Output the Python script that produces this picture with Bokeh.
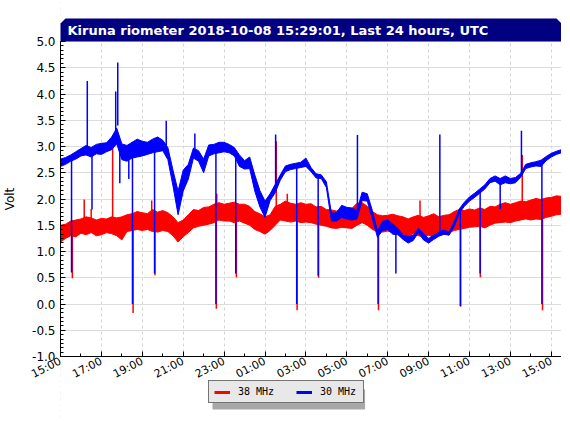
import numpy as np
from bokeh.plotting import figure
from bokeh.models import (Range1d, FixedTicker, NumeralTickFormatter, Label,
                          Legend, LegendItem, ColumnDataSource)
from bokeh.embed import file_html
from bokeh.resources import INLINE

# ---------------- data ----------------
title_text = "Kiruna riometer 2018-10-08 15:29:01, Last 24 hours, UTC"
y_label = "Volt"
series_names = ["38 MHz", "30 MHz"]
series_colors = ["#ff0000", "#0000ff"]

# x axis: hours since 2018-10-07 15:00 UTC
x_tick_hours = [0, 2, 4, 6, 8, 10, 12, 14, 16, 18, 20, 22, 24]
x_tick_labels = ["15:00", "17:00", "19:00", "21:00", "23:00", "01:00", "03:00",
                 "05:00", "07:00", "09:00", "11:00", "13:00", "15:00"]
x_minor_hours = [1, 3, 5, 7, 9, 11, 13, 15, 17, 19, 21, 23]
y_ticks = [-1.0, -0.5, 0.0, 0.5, 1.0, 1.5, 2.0, 2.5, 3.0, 3.5, 4.0, 4.5, 5.0]

# sample times (every 15 min) with min / max of the signal in each interval
t_hours = np.arange(0, 24.51, 0.25)

red_lo = [1.18, 1.25, 1.30, 1.28, 1.35, 1.32, 1.36, 1.30, 1.32, 1.36, 1.34, 1.30,
          1.22, 1.38, 1.40, 1.42, 1.40, 1.42, 1.38, 1.37, 1.40, 1.38, 1.30, 1.18,
          1.28, 1.36, 1.45, 1.48, 1.50, 1.52, 1.55, 1.60, 1.58, 1.58, 1.55, 1.58,
          1.54, 1.50, 1.42, 1.38, 1.33, 1.40, 1.50, 1.60, 1.58, 1.56, 1.58, 1.55,
          1.56, 1.55, 1.52, 1.50, 1.48, 1.45, 1.44, 1.46, 1.45, 1.44, 1.50, 1.55,
          1.50, 1.42, 1.38, 1.37, 1.39, 1.36, 1.37, 1.34, 1.30, 1.34, 1.30, 1.28,
          1.31, 1.28, 1.30, 1.33, 1.36, 1.40, 1.42, 1.44, 1.46, 1.47, 1.48, 1.45,
          1.50, 1.54, 1.55, 1.56, 1.55, 1.58, 1.60, 1.62, 1.60, 1.62, 1.61, 1.65,
          1.67, 1.70, 1.71]
red_hi = [1.50, 1.52, 1.58, 1.60, 1.62, 1.66, 1.64, 1.60, 1.63, 1.62, 1.66, 1.64,
          1.66, 1.70, 1.72, 1.76, 1.74, 1.72, 1.80, 1.75, 1.78, 1.74, 1.66, 1.55,
          1.60, 1.70, 1.80, 1.78, 1.84, 1.85, 1.90, 1.93, 1.90, 1.92, 1.94, 1.90,
          1.90, 1.86, 1.76, 1.72, 1.66, 1.70, 1.86, 1.90, 1.96, 1.92, 1.90, 1.93,
          1.90, 1.91, 1.85, 1.86, 1.80, 1.79, 1.77, 1.81, 1.78, 1.82, 1.92, 1.93,
          1.86, 1.76, 1.70, 1.68, 1.69, 1.71, 1.68, 1.66, 1.62, 1.66, 1.69, 1.65,
          1.68, 1.72, 1.66, 1.69, 1.70, 1.76, 1.80, 1.78, 1.81, 1.79, 1.83, 1.80,
          1.86, 1.85, 1.90, 1.93, 1.90, 1.93, 1.96, 1.95, 1.98, 2.01, 1.99, 2.02,
          2.03, 2.06, 2.05]

blue_lo = [2.62, 2.66, 2.72, 2.76, 2.82, 2.84, 2.80, 2.86, 2.85, 2.90, 2.94, 3.05,
           2.75, 2.72, 2.78, 2.80, 2.82, 2.85, 2.88, 2.90, 2.92, 2.75, 2.25, 1.70,
           2.15, 2.38, 2.78, 2.72, 2.50, 2.82, 2.86, 2.88, 2.90, 2.88, 2.82, 2.62,
           2.57, 2.58, 2.15, 1.85, 1.65, 1.97, 2.12, 2.36, 2.52, 2.56, 2.58, 2.60,
           2.62, 2.52, 2.40, 2.39, 2.22, 1.58, 1.58, 1.65, 1.62, 1.60, 1.62, 1.97,
           1.96, 1.62, 1.27, 1.40, 1.42, 1.33, 1.32, 1.23, 1.16, 1.21, 1.36, 1.22,
           1.16, 1.23, 1.29, 1.33, 1.31, 1.47, 1.73, 1.86, 1.96, 2.03, 2.11, 2.19,
           2.31, 2.34, 2.27, 2.31, 2.29, 2.31, 2.41, 2.58, 2.61, 2.63, 2.62, 2.73,
           2.80, 2.85, 2.88]
blue_hi = [2.76, 2.79, 2.84, 2.90, 2.96, 3.02, 2.98, 3.04, 3.06, 3.07, 3.18, 3.35,
           3.05, 3.02, 3.08, 3.14, 3.10, 3.08, 3.14, 3.18, 3.12, 2.98, 2.55, 2.15,
           2.55, 2.66, 2.97, 2.92, 2.76, 3.03, 3.04, 3.08, 3.08, 3.04, 2.98, 2.84,
           2.73, 2.80, 2.46, 2.16, 1.96, 2.10, 2.28, 2.46, 2.63, 2.66, 2.68, 2.70,
           2.78, 2.60, 2.48, 2.46, 2.33, 1.73, 1.74, 1.88, 1.84, 1.83, 1.78, 2.13,
           2.10, 1.78, 1.39, 1.58, 1.60, 1.52, 1.44, 1.32, 1.29, 1.31, 1.44, 1.34,
           1.25, 1.31, 1.37, 1.41, 1.37, 1.57, 1.81, 1.94, 2.04, 2.11, 2.19, 2.27,
           2.39, 2.44, 2.39, 2.44, 2.39, 2.41, 2.49, 2.66, 2.69, 2.71, 2.74, 2.81,
           2.87, 2.91, 2.94]

# short single-sample excursions: time, band level, extreme value
red_spike_t = [0.58, 1.16, 1.50, 2.55, 3.55, 4.46, 4.62, 7.62, 7.64, 8.60, 10.55,
               11.09, 11.57, 12.62, 15.55, 17.58, 19.57, 20.53, 22.58, 23.57]
red_spike_from = [1.40, 1.60, 1.60, 1.60, 1.50, 1.70, 1.50, 1.70, 1.80, 1.70, 1.80,
                  1.90, 1.70, 1.60, 1.50, 1.60, 1.50, 1.60, 1.90, 1.70]
red_spike_to = [0.49, 1.99, 1.81, 2.98, -0.17, 1.97, 0.55, -0.09, 2.10, 0.51, 3.10,
                2.10, -0.12, 0.50, -0.12, 1.97, -0.05, 0.51, 2.84, -0.12]

blue_spike_t = [0.54, 1.31, 1.54, 2.70, 2.80, 2.90, 3.34, 3.52, 4.60, 5.17, 6.57,
                7.60, 8.57, 10.52, 11.55, 12.60, 14.52, 15.53, 16.40, 18.55, 19.55,
                20.52, 21.50, 22.54, 23.54]
blue_spike_from = [2.80, 2.95, 2.90, 3.20, 3.40, 2.90, 2.90, 2.90, 2.95, 3.00, 2.85,
                   2.90, 2.90, 2.20, 2.60, 2.45, 1.75, 1.35, 1.40, 1.30, 1.75, 2.15,
                   2.35, 2.45, 2.65]
blue_spike_to = [0.60, 4.25, 1.80, 4.05, 4.60, 2.30, 2.38, 0.00, 0.58, 3.49, 3.25,
                 0.00, 0.58, 3.23, 0.00, 0.54, 3.22, 0.00, 0.58, 3.23, -0.04, 0.58,
                 1.81, 3.30, 0.00]

# ---------------- geometry ----------------
W, H = 561, 418                  # canvas size in px
PX_PER_H = 20.45                 # horizontal scale
PX_PER_V = 52.5                  # vertical scale
PLOT_LEFT, PLOT_TOP = 60, 41     # where 15:00 / 5.0 V sit on the canvas
x_start = -PLOT_LEFT / PX_PER_H
x_end = x_start + W / PX_PER_H
y_top = 5.0 + PLOT_TOP / PX_PER_V
y_bottom = y_top - H / PX_PER_V
bar_h = 23 / PX_PER_V            # title bar height (volts)

p = figure(width=W, height=H, x_range=Range1d(x_start, x_end),
           y_range=Range1d(y_bottom, y_top),
           output_backend="svg", toolbar_location=None,
           min_border_left=0, min_border_right=0, min_border_top=0, min_border_bottom=0)
p.outline_line_color = None
p.background_fill_color = "white"
p.border_fill_color = "white"

# grids
p.ygrid.grid_line_color = "#dcdcdc"
p.ygrid.grid_line_width = 1
p.xgrid.grid_line_color = "#d4d4d4"
p.xgrid.grid_line_dash = "3 3"

# axes (placed at 15:00 and at -1.0 V)
xa = p.xaxis[0]
xa.fixed_location = -1.0
xa.bounds = (0, x_end)
xa.ticker = FixedTicker(ticks=x_tick_hours, minor_ticks=x_minor_hours)
xa.major_label_overrides = {h: lab for h, lab in zip(x_tick_hours, x_tick_labels)}
xa.major_label_orientation = 0.47
xa.major_label_text_font = "DejaVu Sans"
xa.major_label_text_font_size = "11px"
xa.major_label_text_color = "black"
xa.major_label_standoff = 4
xa.major_tick_in = 5
xa.major_tick_out = 0
xa.minor_tick_in = 3
xa.minor_tick_out = 0
xa.axis_line_color = "black"
xa.major_tick_line_color = "black"
xa.minor_tick_line_color = "black"

ya = p.yaxis[0]
ya.fixed_location = 0.0
ya.bounds = (-1, 5)
minor_y = list(np.round(np.arange(-1, 5.0001, 0.5 / 6), 4))
ya.ticker = FixedTicker(ticks=y_ticks, minor_ticks=minor_y)
ya.formatter = NumeralTickFormatter(format="0.0")
ya.major_label_text_font = "DejaVu Sans"
ya.major_label_text_font_size = "12px"
ya.major_label_text_color = "black"
ya.major_label_standoff = 5
ya.major_tick_in = 5
ya.major_tick_out = 0
ya.minor_tick_in = 3
ya.minor_tick_out = 0
ya.axis_line_color = "black"
ya.major_tick_line_color = "black"
ya.minor_tick_line_color = "black"

# series 38 MHz (red)
src_r = ColumnDataSource(dict(t=t_hours, lo=red_lo, hi=red_hi))
p.varea(x="t", y1="lo", y2="hi", source=src_r, fill_color=series_colors[0])
p.line(x="t", y="lo", source=src_r, line_color=series_colors[0], line_width=1)
p.line(x="t", y="hi", source=src_r, line_color=series_colors[0], line_width=1)
p.segment(x0=red_spike_t, y0=red_spike_from, x1=red_spike_t, y1=red_spike_to,
          line_color=series_colors[0], line_width=1.5)

# series 30 MHz (blue)
src_b = ColumnDataSource(dict(t=t_hours, lo=blue_lo, hi=blue_hi))
p.varea(x="t", y1="lo", y2="hi", source=src_b, fill_color=series_colors[1])
p.line(x="t", y="lo", source=src_b, line_color=series_colors[1], line_width=1)
p.line(x="t", y="hi", source=src_b, line_color=series_colors[1], line_width=1)
p.segment(x0=blue_spike_t, y0=blue_spike_from, x1=blue_spike_t, y1=blue_spike_to,
          line_color=series_colors[1], line_width=1.5)

# blank margins around the plotting area (hide grid lines there)
p.quad(left=[x_start, 0, 0], right=[0, x_end, x_end],
       bottom=[y_bottom, y_bottom, 5.0], top=[y_top, -1.0, y_top],
       fill_color="white", line_color=None)

# title bar with bevelled top corners
dx = 5 / PX_PER_H
dy = 5 / PX_PER_V
bar_top = 5.0 + bar_h
p.patch(x=[0, 0, dx, x_end - dx, x_end, x_end],
        y=[5.0, bar_top - dy, bar_top, bar_top, bar_top - dy, 5.0],
        fill_color="#000080", line_color="#000080", line_width=0)
p.add_layout(Label(x=PLOT_LEFT + 7, x_units="screen", y=5.0 + bar_h / 2, y_units="data",
                   text=title_text, text_color="white", text_font="DejaVu Sans",
                   text_font_size="13px", text_font_style="bold",
                   text_align="left", text_baseline="middle"))

# y axis title
p.add_layout(Label(x=9.5, x_units="screen", y=2.0, y_units="data", text=y_label,
                   angle=np.pi / 2, text_font="DejaVu Sans", text_font_size="12px",
                   text_color="black", text_align="center", text_baseline="middle"))

# legend drop shadow (grey box behind the legend)
p.add_layout(Label(x=212, x_units="screen", y=H - 389, y_units="screen",
                   text="\u00a0" * 21, text_font="DejaVu Sans Mono",
                   text_font_size="11.6px", text_color="#a8a8a8",
                   text_align="left", text_baseline="top",
                   background_fill_color="#a8a8a8", background_fill_alpha=1,
                   padding=3, level="guide"))

# legend
leg_r = p.line(x=[np.nan], y=[np.nan], line_color=series_colors[0], line_width=3)
leg_b = p.line(x=[np.nan], y=[np.nan], line_color=series_colors[1], line_width=3)
legend = Legend(items=[LegendItem(label=series_names[0], renderers=[leg_r]),
                       LegendItem(label=series_names[1], renderers=[leg_b])],
                location=(208, H - 403), orientation="horizontal", glyph_width=16,
                glyph_height=10, label_height=10, label_width=38, label_standoff=8,
                spacing=20, padding=5, margin=0, label_text_font="DejaVu Sans Mono",
                label_text_font_size="10px", background_fill_color="#e8e8e8",
                background_fill_alpha=1, border_line_color="black",
                border_line_width=1, label_text_color="black")
p.add_layout(legend)

open("out.html", "w").write(file_html(p, INLINE))
